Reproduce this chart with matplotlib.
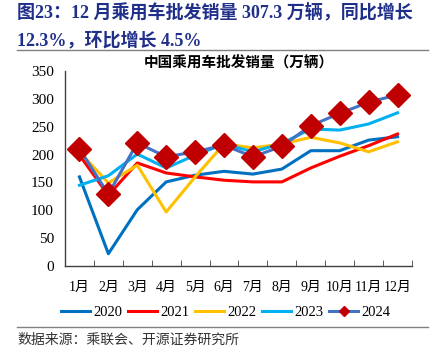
import numpy as np
import matplotlib.pyplot as plt
from matplotlib.lines import Line2D

plt.rcParams['font.family'] = ['Liberation Serif', 'Noto Sans CJK SC', 'DejaVu Sans']

months = ['1月', '2月', '3月', '4月', '5月', '6月', '7月', '8月', '9月', '10月', '11月', '12月']
y2020 = [160, 22, 101, 151, 163, 170, 165, 174, 207, 207, 226, 232]
y2021 = [199, 127, 185, 167, 160, 154, 151, 151, 176, 197, 216, 237]
y2022 = [205, 149, 181, 97, 160, 219, 212, 219, 231, 221, 205, 223]
y2023 = [145, 162, 201, 176, 199, 219, 205, 220, 246, 244, 255, 275]
y2024 = [210, 129, 221, 196, 205, 217, 196, 215, 252, 274, 294, 307.3]

fig = plt.figure(figsize=(4.47, 3.57), dpi=100)
ax = fig.add_axes([0.1454, 0.2549, 0.7763, 0.5461])

x = np.arange(len(months))
ax.plot(x, y2020, color='#0070C0', lw=2.2, label='2020')
ax.plot(x, y2021, color='#FF0000', lw=2.2, label='2021')
ax.plot(x, y2022, color='#FFC000', lw=2.2, label='2022')
ax.plot(x, y2023, color='#00B0F0', lw=2.2, label='2023')
ax.plot(x, y2024, color='#4472C4', lw=2.2, marker='D', ms=12,
        mfc='#C00000', mec='#C00000', label='2024')

ax.set_xlim(-0.5, 11.5)
ax.set_ylim(0, 350)
ax.set_yticks(range(0, 351, 50))
ax.set_xticks(x)
ax.set_xticklabels(months)
ax.set_xticks(np.arange(-0.5, 12, 1), minor=True)
ax.tick_params(axis='x', which='major', length=0, pad=11, labelsize=10)
ax.tick_params(axis='x', which='minor', length=4, direction='in', color='#404040')
ax.tick_params(axis='y', length=0, pad=8, labelsize=11)
for s in ['top', 'right']:
    ax.spines[s].set_visible(False)
for s in ['left', 'bottom']:
    ax.spines[s].set_color('#404040')
    ax.spines[s].set_linewidth(1)

ax.set_title('中国乘用车批发销量（万辆）', fontsize=10.5, fontweight='bold', pad=0,
             family=['Noto Sans CJK SC'])

handles, labels = ax.get_legend_handles_labels()
leg = fig.legend(handles, labels, loc='center', bbox_to_anchor=(0.505, 0.125), ncol=5,
                 frameon=False, fontsize=10.5, handlelength=2.0, handletextpad=0.2,
                 columnspacing=0.4, markerscale=0.4)

navy = '#1F2F8A'
fig.text(0.038, 0.965, '图23：12 月乘用车批发销量 307.3 万辆，同比增长', color=navy,
         fontsize=13, fontweight='bold', va='center')
fig.text(0.038, 0.888, '12.3%，环比增长 4.5%', color=navy,
         fontsize=13, fontweight='bold', va='center')

fig.add_artist(Line2D([0.038, 0.958], [0.86, 0.86], color='#808080', lw=1))
fig.add_artist(Line2D([0.038, 0.958], [0.084, 0.084], color='#808080', lw=1))
fig.text(0.038, 0.047, '数据来源：乘联会、开源证券研究所', fontsize=10, color='#333333',
         va='center', family=['Noto Sans CJK SC'])

fig.savefig('out.png', dpi=100)
